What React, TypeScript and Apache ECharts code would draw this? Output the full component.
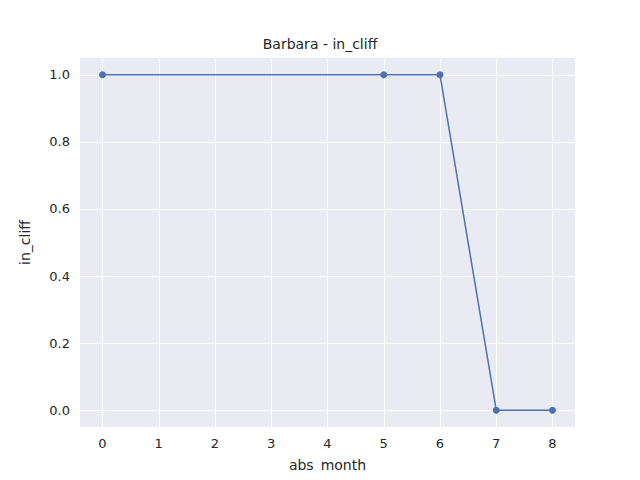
import React, { useEffect, useRef } from 'react'
import * as echarts from 'echarts'

const months = [0, 5, 6, 7, 8]
const inCliff = [1, 1, 1, 0, 0]
const xTicks = [0, 1, 2, 3, 4, 5, 6, 7, 8]
const yTicks = [0, 0.2, 0.4, 0.6, 0.8, 1.0]

function App() {
  const chartRef = useRef(null)

  useEffect(() => {
    const chart = echarts.init(chartRef.current, null, { renderer: 'svg' })
    const font = 'DejaVu Sans'
    chart.setOption({
      animation: false,
      textStyle: { fontFamily: font },
      title: {
        text: 'Barbara - in_cliff',
        left: 'center',
        top: 32,
        textStyle: { fontSize: 14, fontWeight: 'normal', color: '#262626', fontFamily: font },
      },
      grid: {
        left: 80, right: 65, top: 58, bottom: 53,
        show: true, backgroundColor: '#EAEAF2', borderWidth: 0,
      },
      xAxis: {
        type: 'value',
        min: -0.4,
        max: 8.4,
        name: 'abs_month',
        nameLocation: 'middle',
        nameGap: 31,
        nameTextStyle: { fontSize: 14, color: '#262626' },
        axisLine: { show: false },
        axisTick: { show: false, customValues: xTicks },
        axisLabel: { customValues: xTicks, color: '#262626', fontSize: 13, margin: 10 },
        splitLine: { show: true, lineStyle: { color: '#fff', width: 1 } },
      },
      yAxis: {
        type: 'value',
        min: -0.05,
        max: 1.05,
        name: 'in_cliff',
        nameLocation: 'middle',
        nameGap: 48,
        nameTextStyle: { fontSize: 14, color: '#262626' },
        axisLine: { show: false },
        axisTick: { show: false, customValues: yTicks },
        axisLabel: {
          customValues: yTicks, color: '#262626', fontSize: 13, margin: 10,
          formatter: (v: number) => v.toFixed(1),
        },
        splitLine: { show: true, lineStyle: { color: '#fff', width: 1 } },
      },
      series: [
        {
          type: 'line',
          data: months.map((m, i) => [m, inCliff[i]]),
          symbol: 'circle',
          symbolSize: 7,
          lineStyle: { color: '#4C72B0', width: 1.5 },
          itemStyle: { color: '#4C72B0' },
        },
      ],
    })
    return () => {
      chart.dispose()
    }
  }, [])

  return <div ref={chartRef} style={{ width: 640, height: 480, margin: -8 }}></div>
}

export default App
